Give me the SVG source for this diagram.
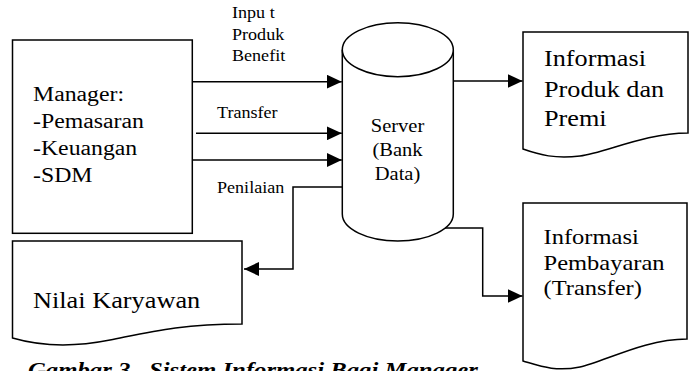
<svg xmlns="http://www.w3.org/2000/svg" width="690" height="371" viewBox="0 0 690 371">
<style>
.shape{fill:#fff;stroke:#000;stroke-width:1.5}
.conn{fill:none;stroke:#000;stroke-width:1.5}
text{font-family:'Liberation Serif','Times New Roman',serif;fill:#000}
.lbl{font-size:16px}
.mgr{font-size:20.5px}
.srv{font-size:19px;text-anchor:middle}
.doc1{font-size:23px}
.doc2{font-size:21.5px}
.nilai{font-size:23.5px}
.cap{font-weight:bold;font-style:italic;font-size:21.5px}
</style>
<defs>
<marker id="ah" markerUnits="userSpaceOnUse" markerWidth="15" markerHeight="14" refX="15" refY="7" orient="auto">
<path d="M0,0 L15,7 L0,14 z" fill="#000"/>
</marker>
</defs>

<g id="connectors">
<path class="conn" d="M192.5,81.7 H341.8" marker-end="url(#ah)"/>
<path class="conn" d="M196,133.3 H341.8" marker-end="url(#ah)"/>
<path class="conn" d="M192.5,160 H341.8" marker-end="url(#ah)"/>
<path class="conn" d="M342,187 H293 V269 H244" marker-end="url(#ah)"/>
<path class="conn" d="M453,81 H522.5" marker-end="url(#ah)"/>
<path class="conn" d="M443,228 H482.7 V296 H522.5" marker-end="url(#ah)"/>
<g transform="translate(232,0) scale(1.13,1)">
<text class="lbl" x="0" y="18.5">Inpu t</text>
<text class="lbl" x="0" y="40">Produk</text>
<text class="lbl" x="0" y="61.5">Benefit</text>
</g>
<g transform="translate(217,0) scale(1.13,1)">
<text class="lbl" x="0" y="118.3">Transfer</text>
<text class="lbl" x="0" y="193.3">Penilaian</text>
</g>
</g>

<g id="manager">
<rect class="shape" x="12.5" y="40" width="179.8" height="193.3"/>
<g transform="translate(33,0) scale(1.16,1)">
<text class="mgr" x="0" y="101">Manager:</text>
<text class="mgr" x="0" y="128">-Pemasaran</text>
<text class="mgr" x="0" y="155">-Keuangan</text>
<text class="mgr" x="0" y="182">-SDM</text>
</g>
</g>

<g id="server">
<path class="shape" d="M342.3,49.7 V214 A55.5,27 0 0 0 453.3,214 V49.7"/>
<ellipse class="shape" cx="397.8" cy="49.7" rx="55.5" ry="27"/>
<g transform="translate(397.5,0) scale(1.08,1)">
<text class="srv" x="0" y="132.5">Server</text>
<text class="srv" x="0" y="156.5">(Bank</text>
<text class="srv" x="0" y="180.5">Data)</text>
</g>
</g>

<g id="info-produk">
<path class="shape" d="M523,32 H688 V133 C645,133 605,153 580,156 C555,159 540,155 523,149 Z"/>
<g transform="translate(544,0) scale(1.14,1)">
<text class="doc1" x="0" y="66">Informasi</text>
<text class="doc1" x="0" y="96.7">Produk dan</text>
<text class="doc1" x="0" y="126.5">Premi</text>
</g>
</g>

<g id="info-pembayaran">
<path class="shape" d="M523,203 H687 V339 C644,339 604,362 580,367 C555,372 540,366 523,361 Z"/>
<g transform="translate(543.5,0) scale(1.14,1)">
<text class="doc2" x="0" y="244.5">Informasi</text>
<text class="doc2" x="0" y="270">Pembayaran</text>
<text class="doc2" x="0" y="295.5">(Transfer)</text>
</g>
</g>

<g id="nilai">
<path class="shape" d="M12.5,241 H242 V324 C180,324 150,332 110,340 C70,348 40,346 12.5,338 Z"/>
<g transform="translate(33,0) scale(1.12,1)">
<text class="nilai" x="0" y="307.7">Nilai Karyawan</text>
</g>
</g>

<g id="caption" transform="translate(28,0) scale(1.15,1)">
<text class="cap" y="376.7"><tspan x="0">Gambar 3.</tspan><tspan x="105.2">Sistem Informasi Bagi Manager</tspan></text>
</g>
</svg>
